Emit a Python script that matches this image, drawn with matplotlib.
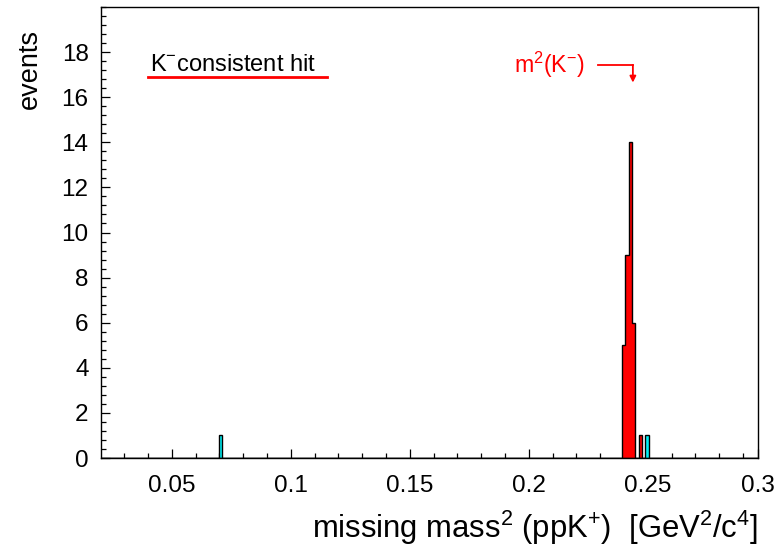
import numpy as np
import matplotlib
matplotlib.use("Agg")
import matplotlib.pyplot as plt
from matplotlib.ticker import MultipleLocator

plt.rcParams["font.family"] = ["Liberation Sans", "DejaVu Sans"]
plt.rcParams["mathtext.fontset"] = "custom"
plt.rcParams["mathtext.rm"] = "Liberation Sans"
plt.rcParams["mathtext.it"] = "Liberation Sans:italic"

# Missing-mass^2 histogram contents (bin centres in GeV^2/c^4, event counts)
bin_width = 0.0014
bin_origin = 0.0012
kminus_centers = [0.2399, 0.2413, 0.2427, 0.2441, 0.2469]
kminus_counts = [5, 9, 14, 6, 1]
other_centers = [0.0705, 0.2497]
other_counts = [1, 1]

x_range = (0.0203, 0.2963)
x_major_ticks = [0.05, 0.1, 0.15, 0.2, 0.25]
x_tick_labels = ["0.05", "0.1", "0.15", "0.2", "0.25", "0.3"]
y_major_ticks = [0, 2, 4, 6, 8, 10, 12, 14, 16, 18]

kaon_mass = 0.4937  # GeV/c^2
m2_kaon = kaon_mass ** 2

edges = np.arange(bin_origin, 0.30 + bin_width, bin_width)
h_kminus, _ = np.histogram(kminus_centers, bins=edges, weights=kminus_counts)
h_other, _ = np.histogram(other_centers, bins=edges, weights=other_counts)

fig = plt.figure(figsize=(7.82, 5.48), dpi=100)
ax = fig.add_axes([0.1292, 0.1642, 0.8401, 0.8230])

ax.stairs(h_kminus, edges, fill=True, facecolor="#ff0000", edgecolor="none", zorder=2)
ax.stairs(h_kminus, edges, color="black", linewidth=1.0, zorder=3)
ax.stairs(h_other, edges, fill=True, facecolor="#00f0f5", edgecolor="none", zorder=2)
ax.stairs(h_other, edges, color="black", linewidth=1.0, zorder=3)

ax.set_xlim(*x_range)
ax.set_ylim(0, 20)

# the last label sits at the right end of the axis
ax.set_xticks(x_major_ticks + [x_range[1]])
ax.set_xticklabels(x_tick_labels)
ax.xaxis.set_minor_locator(MultipleLocator(0.01))
ax.set_yticks(y_major_ticks)
ax.yaxis.set_minor_locator(MultipleLocator(0.4))
ax.tick_params(axis="both", which="major", direction="in", length=6.5, width=0.9,
               labelsize=17.5, top=False, right=False, pad=9)
ax.tick_params(axis="both", which="minor", direction="in", length=3.6, width=0.9,
               top=False, right=False)
ax.tick_params(axis="x", which="major", pad=12)

for sp in ax.spines.values():
    sp.set_linewidth(1.0)

ax.set_ylabel("events", fontsize=19.5, loc="top")
ax.yaxis.set_label_coords(-0.088, 0.952)
ax.set_xlabel(r"missing mass$\mathregular{^{2}}$ (ppK$\mathregular{^{+}}$)  [GeV$\mathregular{^{2}}$/c$\mathregular{^{4}}$]",
              fontsize=22.3, loc="right")
ax.xaxis.set_label_coords(1.0, -0.113)

# legend entry
ax.plot([0.0400, 0.1152], [16.9, 16.9], color="#ff0000", linewidth=2.0)
ax.text(0.0408, 17.45, r"K$\mathregular{^{-}}$consistent hit", fontsize=17, va="center", ha="left")

# kaon mass marker
ax.text(0.2237, 17.45, r"m$\mathregular{^{2}}$(K$\mathregular{^{-}}$)", fontsize=16.7,
        color="#ff0000", va="center", ha="right")
ax.plot([0.2290, m2_kaon], [17.43, 17.43], color="#ff0000", linewidth=1.3)
ax.annotate("", xy=(m2_kaon, 16.65), xytext=(m2_kaon, 17.43),
            arrowprops=dict(arrowstyle="-|>", color="#ff0000", lw=1.3,
                            mutation_scale=9, shrinkA=0, shrinkB=0))

fig.savefig("out.png", dpi=100)
